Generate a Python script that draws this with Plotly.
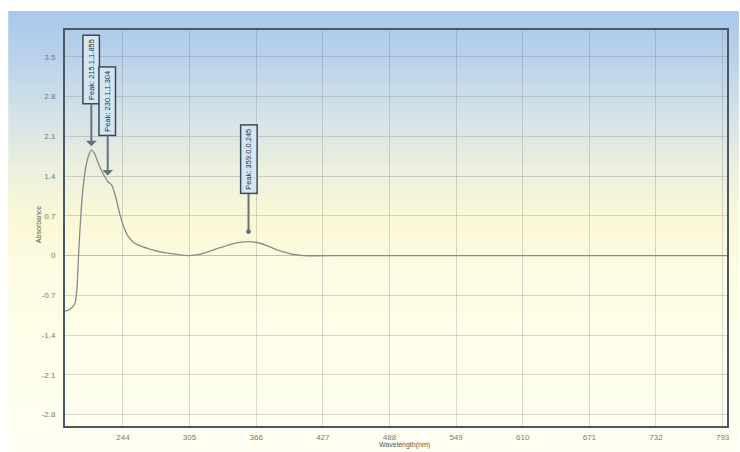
import plotly.graph_objects as go

# Absorption spectrum (wavelength in nm, absorbance)
wavelength = [191, 195.6, 200.1, 201.9, 203.7, 205.6, 207.4, 210.1, 212.8, 215.1,
              218.3, 221.0, 223.8, 226.5, 230.1, 233.8, 237.4, 241.1, 244.7, 248.4,
              253.8, 261.1, 270.2, 282.0, 293.9, 304.8, 313.9, 327.6, 341.2, 352.1,
              359.0, 366.7, 375.8, 386.7, 397.7, 409.5, 450, 550, 650, 797]
absorbance = [-0.98, -0.945, -0.84, -0.58, 0.12, 0.735, 1.17, 1.56, 1.77, 1.855,
              1.785, 1.645, 1.52, 1.42, 1.304, 1.24, 1.03, 0.735, 0.51, 0.35,
              0.23, 0.16, 0.105, 0.05, 0.02, 0.0, 0.02, 0.105, 0.19, 0.235,
              0.245, 0.23, 0.175, 0.09, 0.03, 0.0, 0.0, 0.0, 0.0, 0.0]

# Picked peaks
peak_nm = [215.1, 230.1, 359.0]
peak_abs = [1.855, 1.304, 0.245]

x_ticks = [244, 305, 366, 427, 488, 549, 610, 671, 732, 793]
y_ticks = [3.5, 2.8, 2.1, 1.4, 0.7, 0, -0.7, -1.4, -2.1, -2.8]
y_tick_text = ["3.5", "2.8", "2.1", "1.4", "0.7", "0", "-0.7", "-1.4", "-2.1", "-2.8"]

W, H = 740, 452
ml, mr, mt, mb = 65, 10, 30, 24
pw, ph = W - ml - mr, H - mt - mb

fig = go.Figure()
fig.add_trace(go.Scatter(x=wavelength, y=absorbance, mode="lines",
                         line=dict(color="#8a8a8a", width=1.3, shape="spline", smoothing=0.6),
                         hoverinfo="skip", showlegend=False))

# Background gradient, blue at the top fading to pale yellow
stops = [(11, (168, 200, 235)), (60, (186, 210, 234)), (120, (214, 228, 232)),
         (170, (236, 240, 220)), (220, (250, 248, 214)), (270, (253, 252, 226)),
         (452, (255, 255, 242))]


def color_at(py):
    for (y0, c0), (y1, c1) in zip(stops[:-1], stops[1:]):
        if y0 <= py <= y1:
            t = (py - y0) / (y1 - y0)
            return "rgb(%d,%d,%d)" % tuple(round(a + (b - a) * t) for a, b in zip(c0, c1))
    return "rgb(%d,%d,%d)" % stops[-1][1]


def px_to_paper_x(px):
    return (px - ml) / pw


def px_to_paper_y(py):
    return (H - mb - py) / ph


shapes = []
step = 4
py = 11
while py < H:
    shapes.append(dict(type="rect", xref="paper", yref="paper", layer="below",
                       x0=px_to_paper_x(8), x1=px_to_paper_x(W + 2),
                       y0=px_to_paper_y(py + step + 0.5), y1=px_to_paper_y(py),
                       fillcolor=color_at(py + step / 2), line=dict(width=0)))
    py += step

annotations = []
label_heads = [1, 1, 6]
label_sizes = [0.9, 0.9, 0.6]
label_ay = [-81, -80, -82]
label_standoff = [4, 6, 10]
for nm, a, head, hs, ay, so in zip(peak_nm, peak_abs, label_heads, label_sizes,
                                   label_ay, label_standoff):
    annotations.append(dict(
        x=nm, y=a, xref="x", yref="y", text="Peak: %.1f,%s" % (nm, ("%.3f" % a).rstrip("0")),
        textangle=-90, showarrow=True, ax=0, ay=ay, arrowhead=head, arrowsize=hs,
        arrowwidth=2, arrowcolor="#66717c", standoff=so,
        font=dict(family="Liberation Sans", size=7.5, color="#1e3040"),
        bgcolor="#d3e6f2", bordercolor="#3c4a58", borderwidth=1.5, borderpad=3))

annotations.append(dict(text="Absorbance", xref="paper", yref="paper",
                        x=px_to_paper_x(38), y=px_to_paper_y(226), showarrow=False,
                        xanchor="center", yanchor="middle",
                        textangle=-90, font=dict(family="Liberation Sans", size=7, color="#555")))
annotations.append(dict(text="Wavelength(nm)", xref="paper", yref="paper",
                        x=px_to_paper_x(406), y=px_to_paper_y(447), showarrow=False,
                        xanchor="center", yanchor="middle",
                        font=dict(family="Liberation Sans", size=7, color="#555")))

grid = "rgba(110,118,126,0.28)"
fig.update_layout(
    width=W, height=H, margin=dict(l=ml, r=mr, t=mt, b=mb, pad=0),
    paper_bgcolor="white", plot_bgcolor="rgba(0,0,0,0)",
    shapes=shapes, annotations=annotations, showlegend=False,
    xaxis=dict(range=[191, 797], tickvals=x_ticks, ticktext=[str(v) for v in x_ticks],
               showgrid=True, gridcolor=grid, gridwidth=1, zeroline=False,
               showline=True, mirror=True, linecolor="#4a5866", linewidth=2,
               ticks="", ticklabelstandoff=2,
               tickfont=dict(family="Liberation Sans", size=8, color="#777")),
    yaxis=dict(range=[-3.0, 3.97], tickvals=y_ticks, ticktext=y_tick_text,
               showgrid=True, gridcolor=grid, gridwidth=1, zeroline=True,
               zerolinecolor="rgba(110,118,126,0.45)", zerolinewidth=1,
               showline=True, mirror=True, linecolor="#4a5866", linewidth=2,
               ticks="", ticklabelstandoff=6,
               tickfont=dict(family="Liberation Sans", size=8, color="#777")),
)

fig.write_html("out.html")
